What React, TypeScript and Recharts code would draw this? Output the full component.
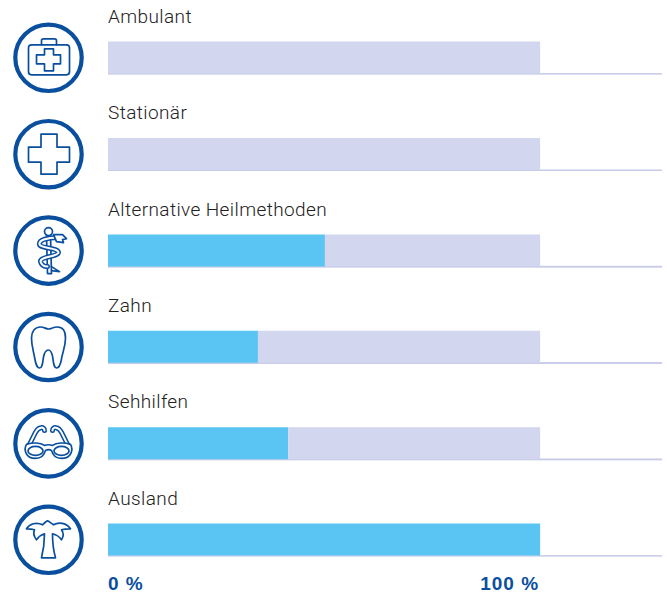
import React from 'react';
import { BarChart, Bar, XAxis, YAxis } from 'recharts';

const categories = ['Ambulant', 'Stationär', 'Alternative Heilmethoden', 'Zahn', 'Sehhilfen', 'Ausland'];
const covered = [0, 0, 50.2, 34.7, 41.7, 100];
const remaining = [100, 100, 49.8, 65.3, 58.3, 0];
const axisTicks = [0, 100];

const BLUE = '#0a4f9e';
const SKY = '#5ac5f3';
const TRACK = '#d2d6ee';
const RULE = '#c6cbe8';

const chartData = categories.map((name, i) => ({
  name,
  covered: covered[i],
  remaining: remaining[i],
}));

// pictograms, drawn around the centre of each circle
const outline = { fill: 'none', stroke: BLUE, strokeWidth: 1.7, strokeLinejoin: 'round' as const, strokeLinecap: 'round' as const };

function DoubleLine({ d, width = 5 }: { d: string; width?: number }) {
  return (
    <g fill="none" strokeLinecap="round" strokeLinejoin="round">
      <path d={d} stroke={BLUE} strokeWidth={width} />
      <path d={d} stroke="#fff" strokeWidth={width - 3} />
    </g>
  );
}

const icons: Record<string, React.ReactNode> = {
  Ambulant: (
    <g {...outline}>
      <rect x={-20} y={-13} width={41} height={30} rx={3} />
      <path d="M-7 -13 V-17 Q-7 -19 -5 -19 H6 Q8 -19 8 -17 V-13" />
      <path d="M-4 -9 H5 V-3 H12 V6 H5 V13 H-4 V6 H-12 V-3 H-4 Z" />
    </g>
  ),
  Stationär: (
    <g {...outline}>
      <path d="M-7.5 -20 H8.5 V-7 H21 V8 H8.5 V20 H-7.5 V8 H-20 V-7 H-7.5 Z" />
    </g>
  ),
  'Alternative Heilmethoden': (
    <g>
      <g {...outline}>
        <circle cx={0} cy={-19} r={4} />
        <path d="M-2 -15 L-1 23 H3 L2 -15" />
        <path d="M3 16 L11 21 L3 20" />
      </g>
      <DoubleLine d="M9 -13 C0 -13 -10 -11 -9 -6 C-8 -2 10 -3 10 2 C10 6 -9 6 -8 11 C-7 15 -4 16 -1 16" />
      <path d="M5 -16 L14 -16 L18 -12 L14 -11 L15 -8 L8 -9 Z" fill="#fff" stroke={BLUE} strokeWidth={1.7} strokeLinejoin="round" />
    </g>
  ),
  Zahn: (
    <g {...outline}>
      <path d="M-8 -20 C-4 -20 -3 -18 0 -18 C3 -18 4 -20 9 -20 C15 -20 17 -15 17 -9 C17 0 14 5 13 12 C12 18 10 21 8 21 C5 21 5 15 4 9 C3 5 2 3 0 3 C-2 3 -4 5 -5 10 C-6 16 -6 21 -9 21 C-12 21 -13 16 -14 10 C-15 4 -17 -1 -17 -9 C-17 -15 -14 -20 -8 -20 Z" />
    </g>
  ),
  Sehhilfen: (
    <g>
      <DoubleLine d="M-20 3 L-13 -11 C-10 -17 -4 -17 -4 -13" />
      <DoubleLine d="M20 3 L13 -11 C10 -17 4 -17 4 -13" />
      <g {...outline}>
        <path d="M-22 1 C-16 -1 -8 -1 -4 2 C-1 1 1 1 4 2 C8 -1 16 -1 22 1 C25 6 23 15 13 15 C7 15 4 11 3 7 C1 6 -1 6 -3 7 C-4 11 -7 15 -13 15 C-23 15 -25 6 -22 1 Z" fill="#fff" />
        <ellipse cx={-13} cy={7.5} rx={7.5} ry={4.5} />
        <ellipse cx={13} cy={7.5} rx={7.5} ry={4.5} />
      </g>
    </g>
  ),
  Ausland: (
    <g {...outline}>
      <path d="M-7 18 C-5 10 -4 3 -4 -6 C-7 -5 -10 -3 -12 0 C-15 -4 -15 -8 -14 -10 C-17 -11 -19 -11 -22 -11 C-19 -16 -12 -18 -6 -15 C-4 -17 -3 -18 -1 -19 C1 -18 2 -17 5 -15 C10 -18 18 -17 22 -11 C18 -11 16 -11 13 -10 C15 -7 15 -3 13 0 C11 -3 8 -5 4 -6 C4 2 5 11 7 18 Z" />
    </g>
  ),
};

function CategoryTick({ x, y, payload }: any) {
  return (
    <g>
      <g transform={`translate(48.5, ${y})`}>
        <circle r={33.2} fill="#fff" stroke={BLUE} strokeWidth={4.2} />
        {icons[payload.value]}
      </g>
      <text x={x} y={y - 35} fontFamily="Roboto, sans-serif" fontWeight={300} fontSize={19} letterSpacing={0.4} fill="#222">
        {payload.value}
      </text>
    </g>
  );
}

function PercentTick({ x, y, payload }: any) {
  const isStart = payload.value === 0;
  return (
    <text
      x={isStart ? x : x - 1}
      y={y + 1.5}
      textAnchor={isStart ? 'start' : 'end'}
      fontFamily="Liberation Sans, sans-serif"
      fontWeight={700}
      fontSize={19}
      letterSpacing={1}
      fill={BLUE}
    >
      {payload.value} %
    </text>
  );
}

function RowRule({ x, y, width, height }: any) {
  return <rect x={x} y={y + height - 0.5} width={width} height={1.5} fill={RULE} />;
}

export default function App() {
  return (
    <div style={{ position: 'absolute', left: 0, top: 0, width: 667, height: 594 }}>
      <BarChart
        width={667}
        height={594}
        data={chartData}
        layout="vertical"
        margin={{ top: 9.6, right: 5, bottom: 0, left: 0 }}
        barSize={32}
      >
        <XAxis
          type="number"
          domain={[0, 128.2]}
          ticks={axisTicks}
          axisLine={false}
          tickLine={false}
          height={6}
          tick={<PercentTick />}
          tickMargin={-6}
          interval={0}
          allowDataOverflow
        />
        <YAxis
          type="category"
          dataKey="name"
          width={108}
          axisLine={false}
          tickLine={false}
          tickSize={0}
          tickMargin={0}
          tick={<CategoryTick />}
          interval={0}
        />
        <Bar dataKey="covered" stackId="a" fill={SKY} isAnimationActive={false} background={<RowRule />} />
        <Bar dataKey="remaining" stackId="a" fill={TRACK} isAnimationActive={false} background={<RowRule />} />
      </BarChart>
    </div>
  );
}
